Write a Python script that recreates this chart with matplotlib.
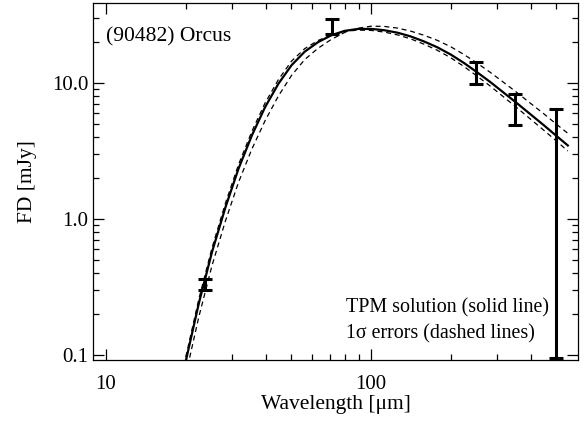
import numpy as np
import matplotlib
matplotlib.use("Agg")
from matplotlib import pyplot as plt
from matplotlib.ticker import FixedLocator, NullFormatter

plt.rcParams['font.family'] = ['Liberation Serif', 'DejaVu Serif']

wl_model = [20.0, 22.4, 25.1, 28.2, 31.6, 35.5, 39.8, 44.7, 50.1, 56.2,
            63.1, 70.8, 79.4, 89.1, 100, 112, 126, 141, 158, 178,
            200, 224, 251, 282, 316, 355, 398, 447, 501, 553]

# TPM solution (solid line) [mJy]
fd_tpm = [0.0904, 0.240, 0.570, 1.212, 2.336, 4.108, 6.62, 9.85, 13.48, 16.97,
          19.94, 22.38, 24.12, 24.92, 24.95, 24.41, 23.39, 21.98, 20.23, 18.27,
          16.16, 14.04, 12.00, 10.15, 8.51, 7.11, 5.92, 4.92, 4.08, 3.47]

# 1 sigma solutions (dashed lines) [mJy]
fd_hi = [0.0718, 0.191, 0.453, 0.963, 1.855, 3.263, 5.26, 8.01, 11.34, 14.85,
         17.98, 20.88, 23.46, 25.20, 26.12, 26.03, 25.29, 24.04, 22.44, 20.55,
         18.43, 16.19, 14.01, 11.95, 10.12, 8.51, 7.13, 5.97, 4.97, 4.26]
fd_lo = [0.0968, 0.258, 0.611, 1.299, 2.503, 4.401, 7.10, 10.56, 14.45, 17.86,
         20.50, 22.53, 23.89, 24.46, 24.32, 23.66, 22.54, 21.09, 19.32, 17.37,
         15.30, 13.22, 11.25, 9.47, 7.91, 6.58, 5.46, 4.52, 3.74, 3.16]

# observed fluxes with errors
wl_obs = [23.7, 71.4, 250, 350, 500]
fd_obs = [0.331, 26.2, 12.0, 6.6, 3.27]
fd_err = [0.030, 3.35, 2.25, 1.7, 3.175]

fig = plt.figure(figsize=(5.85, 4.23), dpi=100)
ax = fig.add_axes([0.159, 0.149, 0.829, 0.844])

ax.plot(wl_model, fd_tpm, color='black', lw=1.6)
ax.plot(wl_model, fd_hi, color='black', lw=0.9, dashes=(4, 3))
ax.plot(wl_model, fd_lo, color='black', lw=0.9, dashes=(4, 3))
ax.errorbar(wl_obs, fd_obs, yerr=fd_err, fmt='none', ecolor='black',
            elinewidth=2.2, capsize=4.8, capthick=2.2)

ax.set_xscale('log')
ax.set_yscale('log')
ax.set_xlim(8.93, 604)
ax.set_ylim(0.092, 38.7)

ax.xaxis.set_major_locator(FixedLocator([10, 100]))
ax.xaxis.set_minor_locator(FixedLocator([20, 30, 40, 50, 60, 70, 80, 90, 200, 300, 400, 500]))
ax.set_xticklabels(['10', '100'])
ax.yaxis.set_major_locator(FixedLocator([0.1, 1.0, 10.0]))
ax.yaxis.set_minor_locator(FixedLocator([0.2, 0.3, 0.4, 0.5, 0.6, 0.7, 0.8, 0.9,
                                         2, 3, 4, 5, 6, 7, 8, 9, 20, 30]))
ax.set_yticklabels(['0.1', '1.0', '10.0'])
ax.xaxis.set_minor_formatter(NullFormatter())
ax.yaxis.set_minor_formatter(NullFormatter())

ax.tick_params(which='both', direction='in', top=True, right=True, labelsize=15, width=0.9)
ax.tick_params(which='major', length=8)
ax.tick_params(which='minor', length=4)
ax.tick_params(axis='x', which='major', pad=10.5)
ax.tick_params(axis='y', which='major', pad=3.5)
for s in ax.spines.values():
    s.set_linewidth(0.9)

ax.set_xlabel('Wavelength [μm]', fontsize=15.5, labelpad=1)
ax.set_ylabel('FD [mJy]', fontsize=15.5, labelpad=11)

ax.text(0.027, 0.906, '(90482) Orcus', transform=ax.transAxes, fontsize=15.5, va='center')
ax.text(0.522, 0.146, 'TPM solution (solid line)', transform=ax.transAxes, fontsize=14.4, va='center')
ax.text(0.522, 0.073, '1σ errors (dashed lines)', transform=ax.transAxes, fontsize=14.4, va='center')

fig.savefig('out.png', dpi=100)
